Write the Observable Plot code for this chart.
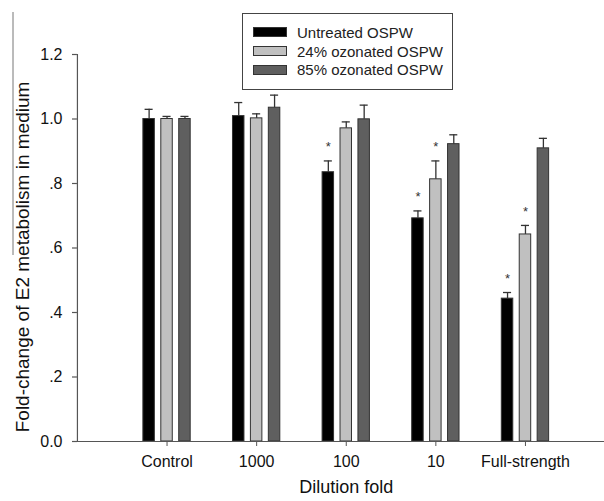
<!DOCTYPE html>
<html>
<head>
<meta charset="utf-8">
<script src="https://cdn.jsdelivr.net/npm/d3@7"></script>
<script src="https://cdn.jsdelivr.net/npm/@observablehq/plot@0.6"></script>
<style>
  html, body { margin: 0; padding: 0; background: #fff; }
  #wrap { position: relative; width: 604px; height: 501px; font-family: "Liberation Sans", Arial, sans-serif; }
  #legend { position: absolute; left: 242px; top: 13px; width: 211px; height: 77px; box-sizing: border-box;
            border: 1px solid #444; background: #fff; padding-top: 9px; }
  .row { display: flex; align-items: center; height: 18.7px; padding-left: 10px; font-size: 15px; color: #222; }
  .sw { width: 34px; height: 10px; box-sizing: border-box; border: 1px solid #333; margin-right: 10px; flex: none; }
</style>
</head>
<body>
<div id="wrap"></div>
<script>
const categories = ["Control", "1000", "100", "10", "Full-strength"];
const series = ["Untreated OSPW", "24% ozonated OSPW", "85% ozonated OSPW"];
const colors = ["#000000", "#c0c0c0", "#5f5f5f"];
const untreated = [1.000, 1.009, 0.835, 0.692, 0.443];
const untreatedErr = [0.030, 0.042, 0.035, 0.023, 0.019];
const oz24 = [1.000, 1.002, 0.971, 0.813, 0.642];
const oz24Err = [0.008, 0.014, 0.020, 0.057, 0.028];
const oz85 = [1.000, 1.035, 0.999, 0.922, 0.909];
const oz85Err = [0.008, 0.039, 0.044, 0.029, 0.031];
const untreatedSig = [false, false, true, true, true];
const oz24Sig = [false, false, false, true, true];
const oz85Sig = [false, false, false, false, false];
const yTicks = [0, 0.2, 0.4, 0.6, 0.8, 1.0, 1.2];
const yTickLabels = ["0.0", ".2", ".4", ".6", ".8", "1.0", "1.2"];
const xLabel = "Dilution fold";
const yLabel = "Fold-change of E2 metabolism in medium";

const values = [untreated, oz24, oz85];
const errs = [untreatedErr, oz24Err, oz85Err];
const sigs = [untreatedSig, oz24Sig, oz85Sig];

const rows = categories.flatMap((c, i) => series.map((s, j) => ({
  cat: c, s, center: i + 1 + (j - 1) * 0.2,
  value: values[j][i], top: values[j][i] + errs[j][i], sig: sigs[j][i]
})));

const xMin = -0.055;
const plot = Plot.plot({
  width: 604, height: 501,
  marginLeft: 72, marginRight: 0, marginTop: 54, marginBottom: 60,
  x: { type: "linear", domain: [xMin, 5.882] },
  y: { domain: [0, 1.2], axis: null },
  color: { domain: series, range: colors },
  style: { fontFamily: "'Liberation Sans', Arial, sans-serif", fontSize: "16px", color: "#222", background: "white", overflow: "visible" },
  marks: [
    Plot.rectY(rows, { x1: d => d.center - 0.064, x2: d => d.center + 0.064, y1: 0, y2: "value", fill: "s", stroke: "#333", strokeWidth: 1 }),
    Plot.ruleX(rows, { x: "center", y1: "value", y2: "top", stroke: "#333", strokeWidth: 1.3 }),
    Plot.ruleY(rows, { y: "top", x1: d => d.center - 0.045, x2: d => d.center + 0.045, stroke: "#333", strokeWidth: 1.3 }),
    Plot.text(rows.filter(d => d.sig), { x: "center", y: "top", text: () => "*", dy: -14, fontSize: 13, fill: "#333" }),
    Plot.ruleY([0], { stroke: "#555", strokeWidth: 1.2 }),
    Plot.ruleX([0], { y1: 0, y2: 1.2, stroke: "#555", strokeWidth: 1.2 }),
    Plot.ruleY(yTicks, { y: d => d, x1: xMin, x2: 0, stroke: "#555", strokeWidth: 1.2 }),
    Plot.text(yTicks, { x: xMin, y: d => d, text: (d, i) => yTickLabels[i], textAnchor: "end", dx: -10, fontSize: 16, fill: "#111" }),
    Plot.axisX({ ticks: [1, 2, 3, 4, 5], tickFormat: v => categories[v - 1], tickSize: 5, tickPadding: 9, fontSize: 16, stroke: "#555", fill: "#111", label: null }),
    Plot.text([xLabel], { x: () => 3, frameAnchor: "bottom", dy: 51, fontSize: 18, fill: "#111" }),
    Plot.text([yLabel], { frameAnchor: "left", textAnchor: "middle", rotate: -90, dx: -50, dy: 9, fontSize: 19, fill: "#111" })
  ]
});

const wrap = document.getElementById("wrap");
wrap.appendChild(plot);

// thin vertical line seen at the left edge of the reference figure
d3.select(plot).append("line")
  .attr("x1", 13).attr("x2", 13).attr("y1", 12).attr("y2", 255)
  .attr("stroke", "#777").attr("stroke-width", 1);

const legend = document.createElement("div");
legend.id = "legend";
series.forEach((s, j) => {
  const row = document.createElement("div");
  row.className = "row";
  const sw = document.createElement("div");
  sw.className = "sw";
  sw.style.background = colors[j];
  const label = document.createElement("span");
  label.textContent = s;
  row.appendChild(sw);
  row.appendChild(label);
  legend.appendChild(row);
});
wrap.appendChild(legend);
</script>
</body>
</html>
